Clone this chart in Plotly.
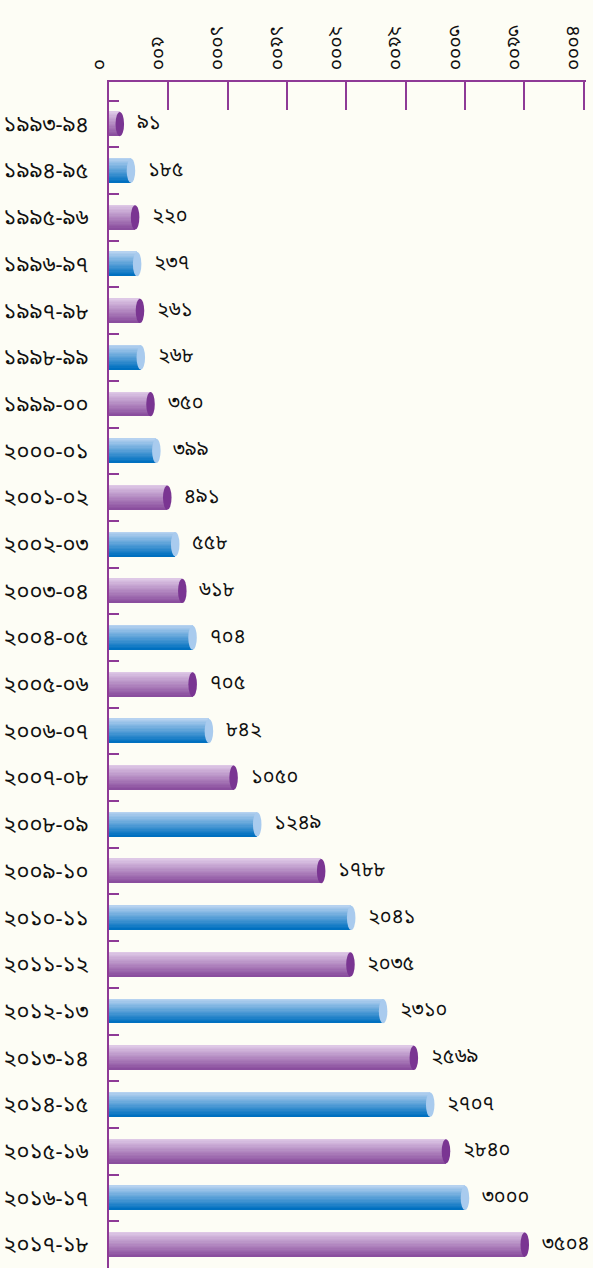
import plotly.graph_objects as go

categories = ["১৯৯৩-৯৪", "১৯৯৪-৯৫", "১৯৯৫-৯৬", "১৯৯৬-৯৭", "১৯৯৭-৯৮", "১৯৯৮-৯৯",
              "১৯৯৯-০০", "২০০০-০১", "২০০১-০২", "২০০২-০৩", "২০০৩-০৪", "২০০৪-০৫",
              "২০০৫-০৬", "২০০৬-০৭", "২০০৭-০৮", "২০০৮-০৯", "২০০৯-১০", "২০১০-১১",
              "২০১১-১২", "২০১২-১৩", "২০১৩-১৪", "২০১৪-১৫", "২০১৫-১৬", "২০১৬-১৭",
              "২০১৭-১৮"]
values = [91, 185, 220, 237, 261, 268, 350, 399, 491, 558, 618, 704, 705, 842,
          1050, 1249, 1788, 2041, 2035, 2310, 2569, 2707, 2840, 3000, 3504]
value_labels = ["৯১", "১৮৫", "২২০", "২৩৭", "২৬১", "২৬৮", "৩৫০", "৩৯৯", "৪৯১", "৫৫৮",
                "৬১৮", "৭০৪", "৭০৫", "৮৪২", "১০৫০", "১২৪৯", "১৭৮৮", "২০৪১", "২০৩৫",
                "২৩১০", "২৫৬৯", "২৭০৭", "২৮৪০", "৩০০০", "৩৫০৪"]
x_tickvals = [0, 500, 1000, 1500, 2000, 2500, 3000, 3500, 4000]
x_ticktext = ["০", "৫০০", "১০০০", "১৫০০", "২০০০", "২৫০০", "৩০০০", "৩৫০০", "৪০০০"]

PURPLE_TOP = (222, 200, 230)
PURPLE_BOT = (138, 78, 158)
BLUE_TOP = (182, 210, 240)
BLUE_BOT = (0, 112, 192)
PURPLE_CAP = "#7a3592"
BLUE_CAP = "#a9cbee"
AXIS = "#8e3a96"
FONT = "Noto Sans Bengali, Noto Sans, DejaVu Sans, sans-serif"

def mix(a, b, t):
    return "rgb(%d,%d,%d)" % tuple(round(a[i] + (b[i] - a[i]) * t) for i in range(3))

BAR_W = 0.52
N = 18
fig = go.Figure()
for k in range(N):
    t = k / (N - 1)
    colors = []
    for i in range(len(values)):
        if i % 2 == 0:
            colors.append(mix(PURPLE_TOP, PURPLE_BOT, t))
        else:
            colors.append(mix(BLUE_TOP, BLUE_BOT, t))
    fig.add_trace(go.Bar(
        x=values, y=categories, orientation="h",
        width=BAR_W / N + 0.003, offset=-BAR_W / 2 + k * BAR_W / N,
        marker=dict(color=colors, line=dict(width=0)),
        showlegend=False, hoverinfo="skip"))

cap = 36
for i, (c, v) in enumerate(zip(categories, values)):
    fig.add_shape(type="circle", xref="x", yref="y",
                  x0=v - cap, x1=v + cap, y0=i - BAR_W / 2, y1=i + BAR_W / 2,
                  fillcolor=PURPLE_CAP if i % 2 == 0 else BLUE_CAP,
                  line=dict(width=0), layer="above")
    fig.add_annotation(x=v, y=c, text=value_labels[i], showarrow=False,
                       xanchor="left", xshift=15,
                       font=dict(size=20, color="#111", family=FONT))

fig.update_layout(
    width=593, height=1268,
    margin=dict(l=109, r=7, t=82, b=0),
    paper_bgcolor="#fdfdf5", plot_bgcolor="rgba(0,0,0,0)",
    barmode="overlay", bargap=0,
    xaxis=dict(side="top", range=[0, 4020], tickvals=x_tickvals, ticktext=x_ticktext,
               tickangle=90, showgrid=False, zeroline=False,
               showline=True, linecolor=AXIS, linewidth=2,
               ticks="inside", ticklen=28, tickwidth=2, tickcolor=AXIS,
               ticklabelshift=-10, ticklabelstandoff=3,
               tickfont=dict(size=19, color="#111", family=FONT)),
    yaxis=dict(type="category", range=[24.5, -0.9], showgrid=False, zeroline=False,
               showline=True, linecolor=AXIS, linewidth=2,
               ticks="inside", tickson="boundaries", ticklen=10, tickwidth=2,
               tickcolor=AXIS, ticklabelstandoff=14,
               tickfont=dict(size=22, color="#111", family=FONT)),
)

fig.write_html("out.html", config={"displayModeBar": False},
               post_script="document.body.style.margin='0';document.body.style.background='#fdfdf5';")
